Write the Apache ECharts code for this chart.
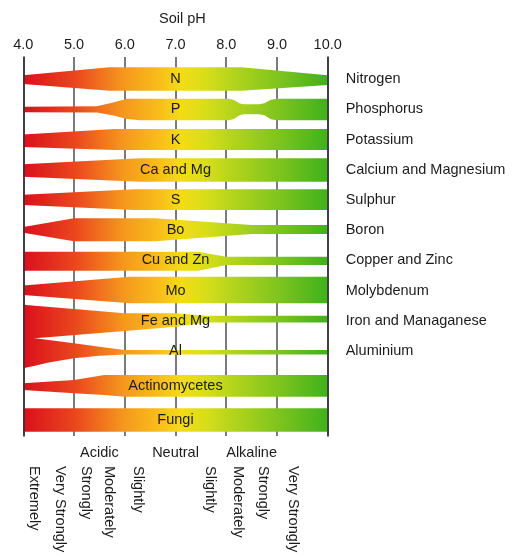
<!DOCTYPE html>
<html><head><meta charset="utf-8">
<script src="https://cdn.jsdelivr.net/npm/echarts@6/dist/echarts.min.js"></script>
<style>html,body{margin:0;padding:0;background:#fff}#c{width:513px;height:558px}</style>
</head><body><div id="c"></div>
<script>
// ---- data ----
const phMin = 4, phMax = 10, phStep = 1;
const nutrientNames = ['Nitrogen','Phosphorus','Potassium','Calcium and Magnesium','Sulphur','Boron','Copper and Zinc','Molybdenum','Iron and Managanese','Aluminium'];
const nutrientSymbols = ['N','P','K','Ca and Mg','S','Bo','Cu and Zn','Mo','Fe and Mg','Al'];
const microbeNames = ['Actinomycetes','Fungi'];
// availability profile: [pH, upper half-width, lower half-width]  (1 = full availability)
const nitrogen   = [[4.0,0.33,0.40],[5.7,0.98,0.98],[8.3,0.98,0.98],[10.0,0.33,0.50]];
const phosphorus = [[4.0,0.22,0.25],[5.45,0.25,0.27],[5.75,0.55,0.50],[6.05,0.88,0.80],[6.3,0.88,0.92],[8.05,0.88,0.92],[8.15,0.78,0.80],[8.27,0.48,0.48],[8.35,0.42,0.42],[8.65,0.42,0.42],[8.75,0.50,0.50],[8.88,0.80,0.82],[9.0,0.88,0.92],[10.0,0.88,0.92]];
const potassium  = [[4.0,0.42,0.62],[5.8,0.88,0.88],[10.0,0.88,0.88]];
const calcium    = [[4.0,0.45,0.58],[6.3,0.95,1.00],[10.0,0.95,1.00]];
const sulphur    = [[4.0,0.42,0.42],[6.2,0.88,0.84],[10.0,0.88,0.84]];
const boron      = [[4.0,0.26,0.22],[5.0,0.98,0.92],[6.6,0.98,0.92],[8.5,0.42,0.33],[10.0,0.42,0.33]];
const copper     = [[4.0,0.72,0.87],[7.45,0.72,0.87],[8.0,0.30,0.39],[10.0,0.30,0.39]];
const molybdenum = [[4.0,0.42,0.38],[6.1,1.15,1.07],[10.0,1.15,1.07]];
const iron       = [[4.0,1.33,1.60],[4.23,1.25,1.47],[6.0,0.62,0.85],[7.0,0.62,0.50],[7.6,0.42,0.15],[10.0,0.42,0.15]];
const aluminium  = [[4.0,1.24,1.45],[4.23,1.05,1.23],[4.5,0.90,0.97],[5.0,0.63,0.62],[5.5,0.35,0.40],[6.0,0.08,0.30],[10.0,0.08,0.30]];
const actinomycetes = [[4.0,0.22,0.33],[5.0,0.50,0.61],[5.6,0.92,0.75],[6.0,0.92,0.89],[10.0,0.92,0.89]];
const fungi      = [[4.0,0.93,1.02],[10.0,0.93,1.02]];
const labelPH = 7.0;
const classLabels = ['Extremely','Very Strongly','Strongly','Moderately','Slightly','Slightly','Moderately','Strongly','Very Strongly'];
const classPH = [4.21,4.72,5.24,5.69,6.26,7.68,8.23,8.73,9.32];
const groupLabels = ['Acidic','Neutral','Alkaline'];
const groupPH = [5.5,7.0,8.5];

const nutrientProfiles = [nitrogen,phosphorus,potassium,calcium,sulphur,boron,copper,molybdenum,iron,aluminium];
const microbeProfiles = [actinomycetes,fungi];

// ---- style ----
const FONT = '"Liberation Sans", Arial, Helvetica, sans-serif';
const FS = 14.5;
const TXT = '#1c1c1c';
const HALF = 12; // px for full half-width
const stops = [
  {offset:0.00,color:'#da0f1d'},
  {offset:0.17,color:'#eb461e'},
  {offset:0.33,color:'#f5981d'},
  {offset:0.45,color:'#f9bf1a'},
  {offset:0.52,color:'#f3dc15'},
  {offset:0.60,color:'#d8de19'},
  {offset:0.68,color:'#b6d51c'},
  {offset:0.84,color:'#7ec41e'},
  {offset:1.00,color:'#40b11c'}
];

function bandRenderer(profiles, labels){
  return function(params, api){
    const i = params.dataIndex;
    const row = api.value(1);
    const prof = profiles[i];
    const top = [], bot = [];
    prof.forEach(p => {
      const c = api.coord([p[0], row]);
      top.push([c[0], c[1] - p[1]*HALF]);
      bot.push([c[0], c[1] + p[2]*HALF]);
    });
    const pts = top.concat(bot.reverse());
    const x0 = api.coord([phMin,row])[0], x1 = api.coord([phMax,row])[0];
    const lc = api.coord([api.value(0), row]);
    return {type:'group', children:[
      {type:'polygon', shape:{points:pts}, style:{fill:new echarts.graphic.LinearGradient(x0,0,x1,0,stops,true)}},
      {type:'text', x:lc[0], y:lc[1], style:{text:labels[i], fill:TXT, font:FS+'px '+FONT, align:'center', verticalAlign:'middle', textAlign:'center', textVerticalAlign:'middle'}}
    ]};
  };
}

const chart = echarts.init(document.getElementById('c'));
chart.setOption({
  animation:false,
  backgroundColor:'#fff',
  title:{text:'Soil pH', left:159, top:11, padding:0, textStyle:{fontSize:FS, fontWeight:'normal', color:TXT, fontFamily:FONT}},
  grid:[
    {left:23.3, width:304.4, top:57, height:379},
    {left:23.3, width:304.4, top:64, height:302},
    {left:23.3, width:304.4, top:369.25, height:67}
  ],
  xAxis:[
    {gridIndex:0, type:'value', position:'top', min:phMin, max:phMax, interval:phStep,
     axisLine:{show:false}, axisTick:{show:false},
     axisLabel:{margin:5, fontSize:FS, color:TXT, fontFamily:FONT, formatter:v=>v.toFixed(1)},
     splitLine:{show:true, lineStyle:{color:'#5a5a5a', width:1.6}}},
    {gridIndex:1, type:'value', min:phMin, max:phMax, show:false},
    {gridIndex:2, type:'value', min:phMin, max:phMax, show:false}
  ],
  yAxis:[
    {gridIndex:0, type:'value', min:0, max:1, position:'left', z:10, axisLine:{show:true, lineStyle:{color:'#333', width:1.6}}, axisTick:{show:false}, axisLabel:{show:false}, splitLine:{show:false}},
    {gridIndex:0, type:'value', min:0, max:1, position:'right', z:10, axisLine:{show:true, lineStyle:{color:'#333', width:1.6}}, axisTick:{show:false}, axisLabel:{show:false}, splitLine:{show:false}},
    {gridIndex:1, type:'category', inverse:true, position:'right', data:nutrientNames,
     axisLine:{show:false}, axisTick:{show:false}, splitLine:{show:false},
     axisLabel:{margin:18, fontSize:FS, color:TXT, fontFamily:FONT, align:'left'}},
    {gridIndex:2, type:'category', inverse:true, data:microbeNames, show:false}
  ],
  series:[
    {type:'custom', xAxisIndex:1, yAxisIndex:2, clip:false, z:3,
     data:nutrientNames.map((n,i)=>[labelPH,i]), renderItem:bandRenderer(nutrientProfiles, nutrientSymbols)},
    {type:'custom', xAxisIndex:2, yAxisIndex:3, clip:false, z:3,
     data:microbeNames.map((n,i)=>[labelPH,i]), renderItem:bandRenderer(microbeProfiles, microbeNames)},
    {type:'custom', xAxisIndex:0, yAxisIndex:0, clip:false, z:3, silent:true,
     data:groupPH.map(p=>[p,0]),
     renderItem:function(params, api){
       const c = api.coord([api.value(0),0]);
       const cs = params.coordSys;
       return {type:'text', x:c[0], y:cs.y+cs.height+17, style:{text:groupLabels[params.dataIndex], fill:TXT, font:FS+'px '+FONT, align:'center', verticalAlign:'middle', textAlign:'center', textVerticalAlign:'middle'}};
     }},
    {type:'custom', xAxisIndex:0, yAxisIndex:0, clip:false, z:3, silent:true,
     data:classPH.map(p=>[p,0]),
     renderItem:function(params, api){
       const c = api.coord([api.value(0),0]);
       const cs = params.coordSys;
       return {type:'text', x:c[0], y:cs.y+cs.height+30, rotation:-Math.PI/2, style:{text:classLabels[params.dataIndex], fill:TXT, font:FS+'px '+FONT, align:'left', verticalAlign:'middle', textAlign:'left', textVerticalAlign:'middle'}};
     }}
  ]
});
</script>
</body></html>
